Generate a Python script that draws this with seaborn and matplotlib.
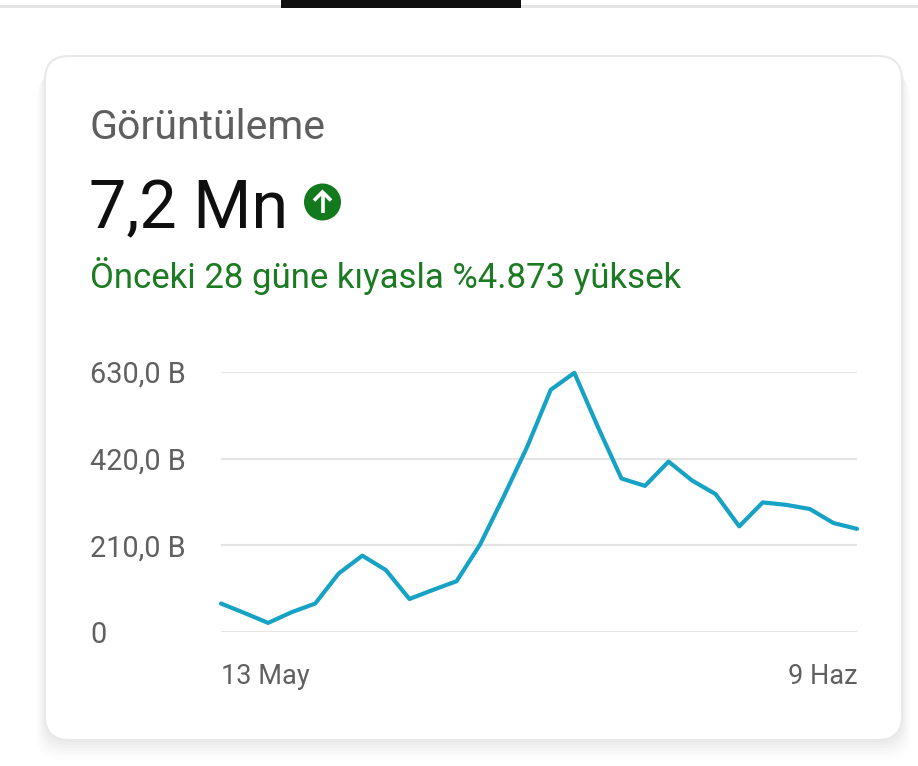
import matplotlib
matplotlib.use("Agg")
import matplotlib.pyplot as plt
from matplotlib.patches import FancyBboxPatch, Circle, Rectangle
import seaborn as sns
import pandas as pd
import numpy as np

# ---- data (thousands of views per day, 13 May .. 9 Jun) ----
days = list(range(28))
views = [69, 46, 22, 48, 69, 142, 185, 150, 80, 102, 123, 212, 328, 449,
         587, 628, 497, 372, 354, 413, 367, 334, 256, 314, 308, 298, 264, 250]
y_ticks = [0, 210, 420, 630]
y_tick_labels = ["0", "210,0 B", "420,0 B", "630,0 B"]
x_ticks = [0, 27]
x_tick_labels = ["13 May", "9 Haz"]
title = "Görüntüleme"
total = "7,2 Mn"
subtitle = "Önceki 28 güne kıyasla %4.873 yüksek"

sns.set_theme(style="white")
plt.rcParams["font.family"] = ["Roboto", "DejaVu Sans"]

W, H = 918, 766
fig = plt.figure(figsize=(W / 100, H / 100), dpi=100)
fig.patch.set_facecolor("white")

# overlay in pixel coordinates
bg = fig.add_axes([0, 0, 1, 1], zorder=0)
bg.set_xlim(0, W)
bg.set_ylim(H, 0)
bg.axis("off")

# top tab bar
bg.add_patch(Rectangle((0, 4.5), W, 3, color="#e5e5e5", lw=0))
bg.add_patch(Rectangle((281, 0), 240, 7.5, color="#0f0f0f", lw=0))

# card shadow (soft)
for i, a in enumerate([0.018, 0.016, 0.014, 0.012, 0.010, 0.008, 0.006]):
    off = 2 + i * 3
    bg.add_patch(FancyBboxPatch((45 - i * 1.5, 56 + off), 857 + i * 3, 684,
                                boxstyle="round,pad=0,rounding_size=24",
                                fc=(0, 0, 0, a), ec="none", lw=0))
# card
bg.add_patch(FancyBboxPatch((45, 56), 857, 684,
                            boxstyle="round,pad=0,rounding_size=24",
                            fc="white", ec="#e9e9e9", lw=1.5))

bg.text(90, 139, title, fontsize=29.5, color="#5f5f5f", va="baseline", ha="left")
bg.text(89, 228, total, fontsize=48, color="#0f0f0f", va="baseline", ha="left")
bg.text(90, 288, subtitle, fontsize=25, color="#1b7a22", va="baseline", ha="left")

# green up-arrow badge
bg.add_patch(Circle((322.5, 202), 18.5, color="#127a1c", lw=0))
bg.plot([322.5, 322.5], [192, 213], color="white", lw=2.6, solid_capstyle="butt")
bg.plot([314, 322.5, 331], [200.5, 192, 200.5], color="white", lw=2.6,
        solid_capstyle="butt", solid_joinstyle="miter")

# chart axes
x0, x1 = 221, 857
y0, y1 = 632, 372
ax = fig.add_axes([x0 / W, (H - y0) / H, (x1 - x0) / W, (y0 - y1) / H], zorder=2)
ax.patch.set_alpha(0)

df = pd.DataFrame({"day": days, "views": views})
sns.lineplot(data=df, x="day", y="views", ax=ax, color="#16a2c4", lw=3.0,
             clip_on=False, zorder=3)

ax.set_xlim(0, 27)
ax.set_ylim(0, 630)
ax.set_yticks(y_ticks)
ax.set_yticklabels(y_tick_labels)
ax.set_xticks(x_ticks)
ax.set_xticklabels(x_tick_labels)
for s in ax.spines.values():
    s.set_visible(False)
ax.grid(axis="y", color="#e4e4e4", lw=1.6)
ax.grid(axis="x", visible=False)
ax.set_xlabel("")
ax.set_ylabel("")
ax.tick_params(axis="y", length=0, pad=(x0 - 90) / 100 * 72, labelsize=20.8,
               labelcolor="#606060")
ax.tick_params(axis="x", length=0, pad=22, labelsize=19.5, labelcolor="#606060")
for lab in ax.get_yticklabels():
    lab.set_horizontalalignment("left")
xl = ax.get_xticklabels()
xl[0].set_horizontalalignment("left")
xl[1].set_horizontalalignment("right")

fig.savefig("out.png", dpi=100, facecolor="white")
